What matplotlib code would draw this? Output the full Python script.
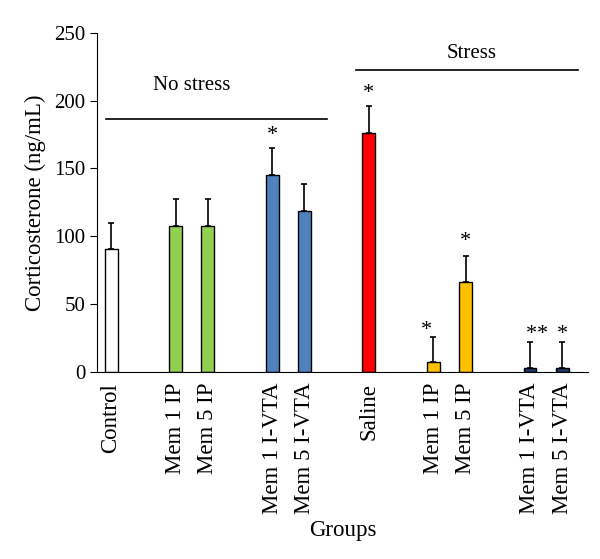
import matplotlib.pyplot as plt

plt.rcParams['font.family'] = ['Liberation Serif', 'DejaVu Serif']

grupos = ["Control", "Mem 1 IP", "Mem 5 IP", "Mem 1 I-VTA", "Mem 5 I-VTA",
          "Saline", "Mem 1 IP", "Mem 5 IP", "Mem 1 I-VTA", "Mem 5 I-VTA"]
posiciones = [0, 2, 3, 5, 6, 8, 10, 11, 13, 14]
valores = [90.5, 107.5, 107.5, 145.5, 118.5, 176.5, 7, 66, 3, 2.8]
errores = [19.5, 20, 20, 19.5, 20, 19.5, 18.7, 19.5, 19, 19]
colores = ["white", "#92D050", "#92D050", "#4F81BD", "#4F81BD",
           "#FF0000", "#FFC000", "#FFC000", "#1F3864", "#1F3864"]
# asteriscos: (posicion, altura del centro, texto)
asteriscos = [(5, 174, "*"), (8, 205, "*"), (9.8, 30.5, "*"), (11, 96, "*"),
              (13.05, 27.5, "*"), (13.4, 27.5, "*"), (14, 27.5, "*")]

fig = plt.figure(figsize=(6, 5.59), dpi=100)
ax = fig.add_axes([0.162, 0.335, 0.818, 0.606])

ax.bar(posiciones, valores, width=0.4, color=colores, edgecolor="black",
       linewidth=1, zorder=2)
ax.errorbar(posiciones, valores, yerr=[[0] * len(errores), errores], fmt="none",
            ecolor="black", elinewidth=1.2, capsize=2.5, capthick=1.2, zorder=3)

for x, y, t in asteriscos:
    ax.text(x, y, t, ha="center", va="center", fontsize=16)

# lineas de grupo
ax.plot([-0.15, 6.7], [186.5, 186.5], color="black", lw=1.2, clip_on=False)
ax.text(2.5, 204, "No stress", ha="center", va="bottom", fontsize=15)
ax.plot([7.6, 14.5], [223, 223], color="black", lw=1.2, clip_on=False)
ax.text(11.2, 227.5, "Stress", ha="center", va="bottom", fontsize=15)

ax.set_xlim(-0.43, 14.8)
ax.set_ylim(0, 250)
ax.set_yticks([0, 50, 100, 150, 200, 250])
ax.set_xticks(posiciones)
ax.set_xticklabels(grupos, rotation=90, fontsize=16.5)
ax.tick_params(axis="x", length=0, pad=8)
ax.tick_params(axis="y", labelsize=15, direction="out", length=5)
ax.spines["top"].set_visible(False)
ax.spines["right"].set_visible(False)
ax.set_ylabel("Corticosterone (ng/mL)", fontsize=16.5, labelpad=6)
ax.set_xlabel("Groups", fontsize=16.5, labelpad=4)

plt.savefig("out.png", dpi=100)
